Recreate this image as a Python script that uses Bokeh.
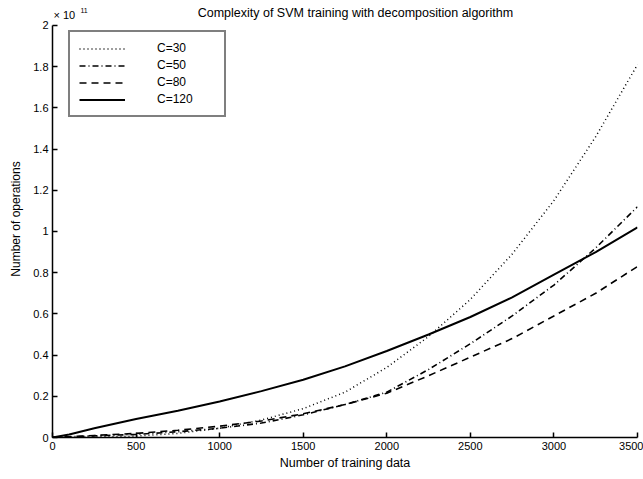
from bokeh.plotting import figure
from bokeh.models import Range1d, FixedTicker, CustomJSTickFormatter, Label, Legend, LegendItem
from bokeh.embed import file_html
from bokeh.resources import INLINE

# Data (y in units of 1e11 operations)
n_train = [0, 100, 250, 500, 750, 1000, 1250, 1500, 1750, 2000, 2250, 2500, 2750, 3000, 3250, 3500]
c30 = [0, 0.0, 0.002, 0.007, 0.02, 0.045, 0.085, 0.14, 0.22, 0.34, 0.49, 0.67, 0.89, 1.15, 1.46, 1.81]
c50 = [0, 0.003, 0.008, 0.015, 0.028, 0.045, 0.07, 0.11, 0.16, 0.22, 0.33, 0.455, 0.59, 0.74, 0.92, 1.12]
c80 = [0, 0.004, 0.01, 0.02, 0.035, 0.055, 0.08, 0.115, 0.16, 0.215, 0.30, 0.39, 0.48, 0.59, 0.70, 0.83]
c120 = [0, 0.015, 0.045, 0.09, 0.13, 0.175, 0.225, 0.28, 0.345, 0.42, 0.50, 0.585, 0.68, 0.79, 0.90, 1.02]
series_labels = ["C=30", "C=50", "C=80", "C=120"]
x_ticks = [0, 500, 1000, 1500, 2000, 2500, 3000, 3500]
y_ticks = [0, 0.2, 0.4, 0.6, 0.8, 1.0, 1.2, 1.4, 1.6, 1.8, 2.0]

FONT = "Liberation Sans"

p = figure(width=643, height=479, output_backend="svg", toolbar_location=None,
           x_range=Range1d(0, 3500), y_range=Range1d(0, 2.121),
           min_border_left=52, min_border_right=6, min_border_top=0, min_border_bottom=42)
p.outline_line_color = None
p.grid.visible = False
p.background_fill_color = "white"
p.border_fill_color = "white"

for ax in (p.xaxis[0], p.yaxis[0]):
    ax.axis_line_color = "black"
    ax.axis_line_width = 1.5
    ax.major_tick_in = 5
    ax.major_tick_out = 0
    ax.major_tick_line_color = "black"
    ax.major_tick_line_width = 1.5
    ax.minor_tick_line_color = None
    ax.major_label_text_font = FONT
    ax.major_label_text_font_size = "11px"
    ax.major_label_text_color = "black"
    ax.axis_label_text_font = FONT
    ax.axis_label_text_font_style = "normal"
    ax.axis_label_text_color = "black"

p.yaxis.bounds = (0, 2)
p.xaxis.ticker = FixedTicker(ticks=x_ticks)
p.yaxis.ticker = FixedTicker(ticks=y_ticks)
p.yaxis.formatter = CustomJSTickFormatter(code="return Number(tick.toFixed(1)).toString();")
p.xaxis.major_label_standoff = 4
p.yaxis.major_label_standoff = 4
p.xaxis.axis_label = "Number of training data"
p.xaxis.axis_label_text_font_size = "12.5px"
p.xaxis.axis_label_standoff = 3
p.yaxis.axis_label = "Number of operations"
p.yaxis.axis_label_text_font_size = "12px"
p.yaxis.axis_label_standoff = 7

r30 = p.line(n_train, c30, line_color="black", line_width=1.5, line_dash="1 3")
r50 = p.line(n_train, c50, line_color="black", line_width=1.6, line_dash="6 3 1 3")
r80 = p.line(n_train, c80, line_color="black", line_width=1.6, line_dash="7 5")
r120 = p.line(n_train, c120, line_color="black", line_width=2)

legend = Legend(items=[LegendItem(label=series_labels[0], renderers=[r30]),
                       LegendItem(label=series_labels[1], renderers=[r50]),
                       LegendItem(label=series_labels[2], renderers=[r80]),
                       LegendItem(label=series_labels[3], renderers=[r120])],
                location=(16, 320))
legend.border_line_color = "black"
legend.border_line_width = 2
legend.background_fill_color = "white"
legend.background_fill_alpha = 1
legend.padding = 9
legend.spacing = 3
legend.glyph_width = 46
legend.glyph_height = 13
legend.label_height = 13
legend.label_width = 58
legend.label_standoff = 32
legend.label_text_font = FONT
legend.label_text_font_size = "12px"
legend.label_text_color = "black"
legend.margin = 0
p.add_layout(legend, "center")

title = Label(x=1812, y=2.058, text="Complexity of SVM training with decomposition algorithm",
              text_font=FONT, text_font_size="12.5px", text_align="center", text_baseline="middle",
              text_color="black")
p.add_layout(title)
expo = Label(x=0, y=2.05, x_offset=1, text="\u00d7 10", text_font=FONT, text_font_size="11px",
             text_align="left", text_baseline="middle", text_color="black")
p.add_layout(expo)
expo2 = Label(x=0, y=2.05, x_offset=28, y_offset=5, text="11", text_font=FONT, text_font_size="7px",
              text_align="left", text_baseline="middle", text_color="black")
p.add_layout(expo2)

open("out.html", "w").write(file_html(p, INLINE))
